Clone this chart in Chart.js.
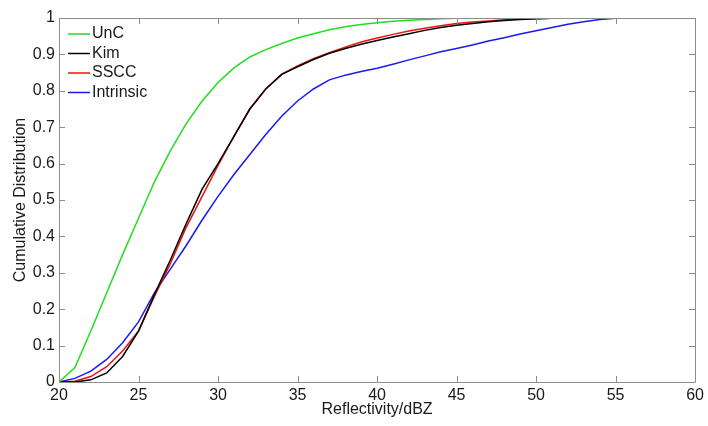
<!DOCTYPE html>
<html lang="en">
<head>
    <meta charset="UTF-8">
    <title>Cumulative Distribution of Reflectivity</title>
    <script src="https://cdn.jsdelivr.net/npm/chart.js"></script>
    <style>
        body { margin: 0; background: #fff; }
        #wrap { width: 708px; height: 426px; }
    </style>
</head>
<body>
    <div id="wrap"><canvas id="cdfChart" width="708" height="426"></canvas></div>
    <script>
        // reflectivity bins (dBZ)
        const dbzUnC = [20, 21, 22, 23, 24, 25, 26, 27, 28, 29, 30, 31, 32, 33, 34, 35, 36, 37, 38, 39, 40,
                        41, 42, 43, 44, 45, 46, 47, 48, 49, 50, 51, 52, 53, 54, 55, 56, 57, 58, 59, 60];
        const dbzKim = [20, 21, 22, 23, 24, 25, 26, 27, 28, 29, 30, 31, 32, 33, 34, 35, 36, 37, 38, 39, 40,
                        41, 42, 43, 44, 45, 46, 47, 48, 49, 50, 51, 52, 53, 54, 55];
        const dbzSSCC = dbzKim;
        const dbzIntrinsic = [20, 21, 22, 23, 24, 25, 26, 27, 28, 29, 30, 31, 32, 33, 34, 35, 36, 37, 38, 39, 40,
                              41, 42, 43, 44, 45, 46, 47, 48, 49, 50, 51, 52, 53, 54, 55, 56, 57];

        const cdfUnC = [0, 0.04, 0.14, 0.245, 0.35, 0.45, 0.55, 0.635, 0.71, 0.772, 0.823, 0.863, 0.893, 0.913, 0.93,
                        0.945, 0.957, 0.968, 0.976, 0.982, 0.987, 0.991, 0.994, 0.996, 0.998, 0.999,
                        1, 1, 1, 1, 1, 1, 1, 1, 1, 1, 1, 1, 1, 1, 1];
        const cdfKim = [0, 0, 0.006, 0.025, 0.07, 0.14, 0.24, 0.335, 0.435, 0.53, 0.6, 0.675, 0.75, 0.805, 0.845,
                        0.866, 0.886, 0.903, 0.916, 0.928, 0.938, 0.948, 0.957, 0.966, 0.974, 0.98,
                        0.985, 0.99, 0.993, 0.996, 0.998, 0.999, 1, 1, 1, 1];
        const cdfSSCC = [0, 0.002, 0.015, 0.042, 0.085, 0.14, 0.235, 0.325, 0.425, 0.51, 0.595, 0.675, 0.75, 0.805, 0.845,
                         0.868, 0.888, 0.905, 0.92, 0.934, 0.945, 0.955, 0.964, 0.972, 0.979, 0.985,
                         0.989, 0.992, 0.995, 0.997, 0.998, 0.999, 1, 1, 1, 1];
        const cdfIntrinsic = [0, 0.01, 0.03, 0.062, 0.108, 0.165, 0.245, 0.31, 0.375, 0.445, 0.51, 0.57, 0.625, 0.68, 0.73,
                              0.772, 0.805, 0.83, 0.843, 0.853, 0.862, 0.873, 0.885, 0.896, 0.907, 0.916,
                              0.926, 0.937, 0.946, 0.956, 0.965, 0.974, 0.983, 0.99, 0.996, 0.999, 1, 1];

        const xTicks = [20, 25, 30, 35, 40, 45, 50, 55, 60];
        const yTicks = [0, 0.1, 0.2, 0.3, 0.4, 0.5, 0.6, 0.7, 0.8, 0.9, 1];

        const pts = (xs, ys) => xs.map((x, i) => ({ x: x, y: ys[i] }));
        const fontFamily = '"Liberation Sans", Arial, sans-serif';

        // box around the plot, inward ticks on all four sides, and legend inside the axes
        const matlabAxes = {
            id: 'matlabAxes',
            afterDatasetsDraw(chart) {
                const { ctx, chartArea: a, scales } = chart;
                const len = 6;
                ctx.save();
                ctx.strokeStyle = '#8c8c8c';
                ctx.lineWidth = 1;
                ctx.beginPath();
                ctx.rect(Math.round(a.left) + 0.5, Math.round(a.top) + 0.5,
                         Math.round(a.right - a.left), Math.round(a.bottom - a.top));
                xTicks.forEach(v => {
                    const px = Math.round(scales.x.getPixelForValue(v)) + 0.5;
                    ctx.moveTo(px, a.bottom); ctx.lineTo(px, a.bottom - len);
                    ctx.moveTo(px, a.top); ctx.lineTo(px, a.top + len);
                });
                yTicks.forEach(v => {
                    const py = Math.round(scales.y.getPixelForValue(v)) + 0.5;
                    ctx.moveTo(a.left, py); ctx.lineTo(a.left + len, py);
                    ctx.moveTo(a.right, py); ctx.lineTo(a.right - len, py);
                });
                ctx.stroke();

                // legend
                ctx.font = '16px ' + fontFamily;
                ctx.textBaseline = 'middle';
                chart.data.datasets.forEach((ds, i) => {
                    const y = a.top + 16 + i * 19.5;
                    ctx.strokeStyle = ds.borderColor;
                    ctx.lineWidth = 1.5;
                    ctx.beginPath();
                    ctx.moveTo(a.left + 9, y);
                    ctx.lineTo(a.left + 31, y);
                    ctx.stroke();
                    ctx.fillStyle = '#1a1a1a';
                    ctx.fillText(ds.label, a.left + 33, y);
                });
                ctx.restore();
            }
        };

        const ctx = document.getElementById('cdfChart').getContext('2d');
        new Chart(ctx, {
            type: 'line',
            data: {
                datasets: [
                    { label: 'UnC', data: pts(dbzUnC, cdfUnC), borderColor: '#22dd22' },
                    { label: 'Kim', data: pts(dbzKim, cdfKim), borderColor: '#000000' },
                    { label: 'SSCC', data: pts(dbzSSCC, cdfSSCC), borderColor: '#ee1111' },
                    { label: 'Intrinsic', data: pts(dbzIntrinsic, cdfIntrinsic), borderColor: '#1a1aee' }
                ]
            },
            options: {
                responsive: false,
                animation: false,
                layout: { padding: { top: 18, right: 11, left: 0, bottom: 0 } },
                elements: {
                    point: { radius: 0 },
                    line: { borderWidth: 1.5, tension: 0 }
                },
                scales: {
                    x: {
                        type: 'linear',
                        min: 20,
                        max: 60,
                        grid: { display: false, drawTicks: false },
                        border: { display: false },
                        afterBuildTicks: s => { s.ticks = xTicks.map(v => ({ value: v })); },
                        afterFit: s => { s.height = 44; },
                        ticks: { color: '#1a1a1a', padding: 4, font: { family: fontFamily, size: 16 } },
                        title: {
                            display: true,
                            text: 'Reflectivity/dBZ',
                            color: '#1a1a1a',
                            padding: { top: 0, bottom: 7 },
                            font: { family: fontFamily, size: 16 }
                        }
                    },
                    y: {
                        min: 0,
                        max: 1,
                        grid: { display: false, drawTicks: false },
                        border: { display: false },
                        afterBuildTicks: s => { s.ticks = yTicks.map(v => ({ value: v })); },
                        afterFit: s => { s.width = 59; },
                        ticks: {
                            color: '#1a1a1a',
                            padding: 4,
                            font: { family: fontFamily, size: 16 },
                            callback: v => String(Math.round(v * 10) / 10)
                        },
                        title: {
                            display: true,
                            text: 'Cumulative Distribution',
                            color: '#1a1a1a',
                            padding: { top: 11, bottom: 0 },
                            font: { family: fontFamily, size: 16 }
                        }
                    }
                },
                plugins: {
                    legend: { display: false },
                    tooltip: { enabled: false }
                }
            },
            plugins: [matlabAxes]
        });
    </script>
</body>
</html>
